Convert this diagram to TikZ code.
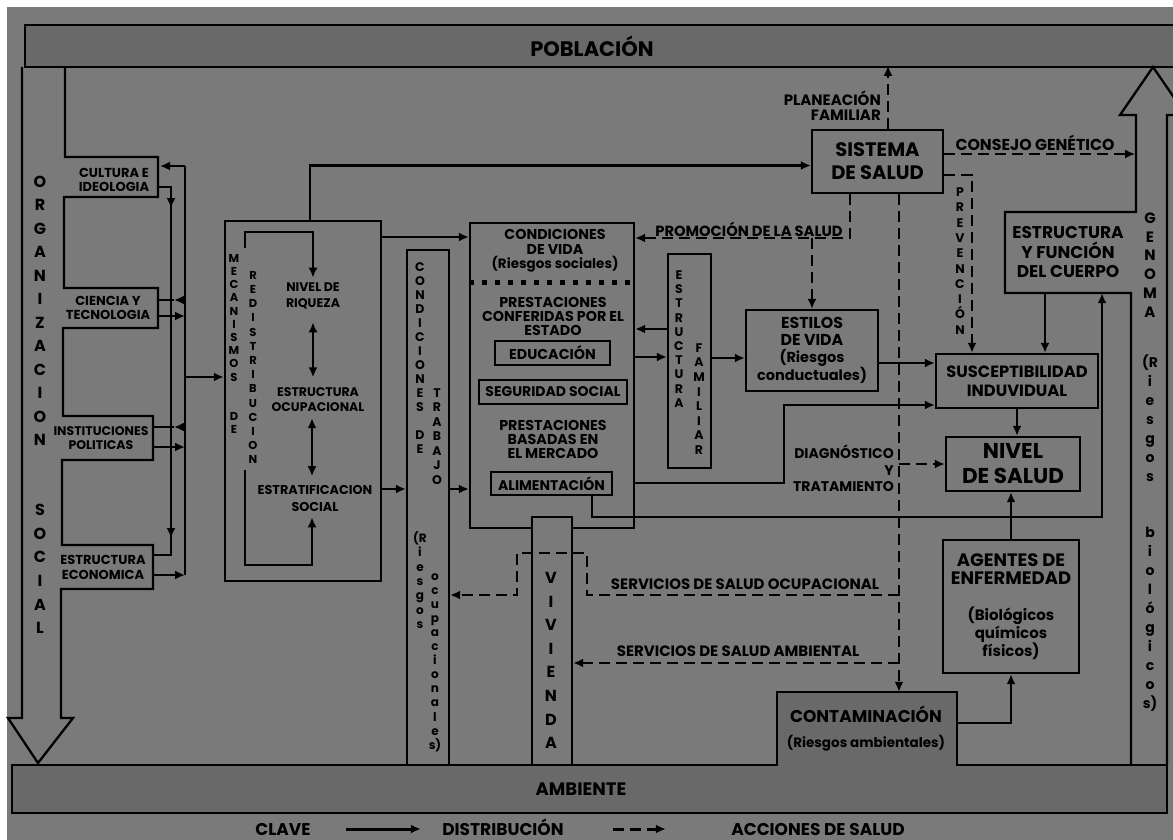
\documentclass[tikz,border=0pt]{standalone}
\usepackage{fontspec}
\setmainfont{Poppins}
\usetikzlibrary{arrows.meta}
\definecolor{paper}{RGB}{122,122,122}
\definecolor{bandgray}{RGB}{105,105,105}
\newcommand{\fsz}[2]{\fontsize{#1}{#2}\selectfont\bfseries}

\begin{document}
\begin{tikzpicture}[x=1pt, y=-1pt,
  box/.style={draw, line width=2.3pt, align=center, inner sep=0pt},
  slot/.style={align=center, inner sep=0pt},
  txt/.style={align=center, inner sep=0pt},
  stack/.style={align=center, inner sep=0pt},
  wire/.style={draw, line width=2.3pt},
  line/.style={wire, -{Latex[length=10pt, width=9pt]}},
  both/.style={wire, {Latex[length=10pt, width=9pt]}-{Latex[length=10pt, width=9pt]}},
  dline/.style={line, dash pattern=on 11pt off 6pt},
  band/.style={draw, line width=2.3pt, fill=bandgray}
]
\useasboundingbox (0,0) rectangle (1173,840);
\fill[white] (0,0) rectangle (1173,840);
\fill[paper] (7,7) rectangle (1173,840);

% bands
\draw[band] (25,25) rectangle (1190,67);
\node[txt, font=\fsz{21}{24}] (poblacion) at (592,46) {POBLACIÓN};
\draw[band] (12,765) -- (777,765) -- (777,692) -- (957,692) -- (957,765)
  -- (1167,765) -- (1167,813) -- (12,813) -- cycle;
\node[txt, font=\fsz{18}{20}] (ambiente) at (581,789) {AMBIENTE};
\node[slot, minimum width=180, minimum height=73, font=\fsz{17}{25}] (contam) at (866,728.5)
  {CONTAMINACIÓN\\\fsz{13.5}{14}(Riesgos ambientales)};

% organizacion social
\draw[wire, line join=miter] (22,67) -- (22,718) -- (8,718) -- (38,763) -- (73,718) -- (61,718)
  -- (61,589) -- (153,589) -- (153,545) -- (62,545) -- (62,460) -- (153,460) -- (153,416)
  -- (63,416) -- (63,328) -- (158,328) -- (158,288) -- (64,288) -- (64,197) -- (158,197)
  -- (158,157) -- (65,157) -- (65,67);
\node[stack, font=\fsz{16}{23.5}] (organiz) at (40,311) {O\\R\\G\\A\\N\\I\\Z\\A\\C\\I\\O\\N};
\node[stack, font=\fsz{16}{23.6}] (social) at (40,569) {S\\O\\C\\I\\A\\L};
\node[txt, font=\fsz{13}{14}] (cultura) at (114,180) {CULTURA E\\IDEOLOGIA};
\node[txt, font=\fsz{13}{13.5}] (ciencia) at (108,308) {CIENCIA Y\\TECNOLOGIA};
\node[txt, font=\fsz{12.5}{13.5}] (politica) at (101,438) {INSTITUCIONES\\POLITICAS};
\node[txt, font=\fsz{13}{15}] (economica) at (103,567) {ESTRUCTURA\\ECONOMICA};

% genoma
\draw[wire, line join=miter] (1131,765) -- (1131,293) -- (1005,293) -- (1005,212) -- (1136,212)
  -- (1136,115) -- (1120,115) -- (1153,67) -- (1186,115) -- (1167,115) -- (1167,765);
\node[stack, font=\fsz{15}{18.8}] (genoma) at (1150,265) {G\\E\\N\\O\\M\\A};
\node[stack, font=\fsz{14}{18.9}] (riesgobio) at (1150,533)
  {(R\\i\\e\\s\\g\\o\\s\\ \\ \\b\\i\\o\\l\\ó\\g\\i\\c\\o\\s)};
\node[slot, minimum width=126, minimum height=81, font=\fsz{17}{19.5}] (estfun) at (1068,252.5)
  {ESTRUCTURA\\Y FUNCIÓN\\DEL CUERPO};

% mecanismos de redistribucion
\node[box, minimum width=156, minimum height=360] (mecanismos) at (303,401) {};
\node[stack, font=\fsz{11.5}{13.2}] (mecan) at (234,344) {M\\E\\C\\A\\N\\I\\S\\M\\O\\S\\ \\ \\D\\E};
\node[stack, font=\fsz{11.5}{14.2}] (redis) at (253,367.5) {R\\E\\D\\I\\S\\T\\R\\I\\B\\U\\C\\I\\O\\N};
\node[txt, font=\fsz{12.5}{16}] (riqueza) at (313,296) {NIVEL DE\\RIQUEZA};
\node[txt, font=\fsz{12.5}{15}] (ocupacional) at (318,400) {ESTRUCTURA\\OCUPACIONAL};
\node[txt, font=\fsz{12.8}{17}] (estratificacion) at (315,498) {ESTRATIFICACION\\SOCIAL};

% condiciones de trabajo
\node[box, minimum width=42, minimum height=515] (condtrab) at (428,507.5) {};
\node[stack, font=\fsz{12.5}{14}] (ct1) at (420,358) {C\\O\\N\\D\\I\\C\\I\\O\\N\\E\\S\\ \\D\\E};
\node[stack, font=\fsz{12.5}{14.5}] (ct2) at (437,436.5) {T\\R\\A\\B\\A\\J\\O};
\node[stack, font=\fsz{12}{14.3}] (ct3) at (420,580) {(R\\i\\e\\s\\g\\o\\s};
\node[stack, font=\fsz{12}{14.1}] (ct4) at (435,662.5) {o\\c\\u\\p\\a\\c\\i\\o\\n\\a\\l\\e\\s)};

% condiciones de vida
\node[box, minimum width=164, minimum height=305] (condvida) at (552,375.5) {};
\draw[line width=5pt, dash pattern=on 5pt off 8pt]
  ([yshift=93.5pt]condvida.west) -- ([yshift=93.5pt]condvida.east);
\node[txt, font=\fsz{14.3}{14.5}] (vida) at (555,251) {CONDICIONES\\DE VIDA\\\fsz{13.5}{12}(Riesgos sociales)};
\node[txt, font=\fsz{14.3}{14}] (estado) at (553,316) {PRESTACIONES\\CONFERIDAS POR EL\\ESTADO};
\node[box, minimum width=115, minimum height=24, font=\fsz{14.3}{14}] (educacion) at (552.5,353) {EDUCACIÓN};
\node[box, minimum width=148, minimum height=24, font=\fsz{14}{14}] (seguridad) at (553,392) {SEGURIDAD SOCIAL};
\node[txt, font=\fsz{14.3}{14}] (mercado) at (553,439) {PRESTACIONES\\BASADAS EN\\EL MERCADO};
\node[box, minimum width=121, minimum height=23, font=\fsz{14}{14}] (alimentacion) at (551.5,483.5) {ALIMENTACIÓN};

% vivienda
\node[box, fill=paper, minimum width=40, minimum height=248] (vivienda) at (552,641) {};
\node[stack, font=\fsz{16}{23.6}] (viv) at (551,660.5) {V\\I\\V\\I\\E\\N\\D\\A};

% estructura familiar
\node[box, minimum width=43, minimum height=214] (estfam) at (689.5,361) {};
\node[stack, font=\fsz{12.5}{14.2}] (ef1) at (679,339) {E\\S\\T\\R\\U\\C\\T\\U\\R\\A};
\node[stack, font=\fsz{12.5}{14.6}] (ef2) at (699,399) {F\\A\\M\\I\\L\\I\\A\\R};

% right hand boxes
\node[box, minimum width=132, minimum height=81, font=\fsz{15.8}{17}] (estilos) at (812,350.5)
  {ESTILOS\\DE VIDA\\\fsz{14.5}{14}(Riesgos\\\fsz{14.5}{14}conductuales)};
\node[box, minimum width=131, minimum height=63, font=\fsz{19.5}{23}] (sistema) at (877.5,161.5) {SISTEMA\\DE SALUD};
\node[box, minimum width=162, minimum height=54, font=\fsz{16.3}{19}] (suscept) at (1017,381) {SUSCEPTIBILIDAD\\INDUVIDUAL};
\node[box, minimum width=134, minimum height=54, font=\fsz{21.5}{25}] (nivel) at (1013,464) {NIVEL\\DE SALUD};
\node[box, minimum width=136, minimum height=133, font=\fsz{18}{18}] (agentes) at (1011,606.5)
  {AGENTES DE\\ENFERMEDAD\\ \\\fsz{15}{14}(Biológicos\\\fsz{15}{14}químicos\\\fsz{15}{14}físicos)};
\node[stack, font=\fsz{12.5}{15.3}] (prevencion) at (960,261) {P\\R\\E\\V\\E\\N\\C\\I\\Ó\\N};

% labels
\node[txt, anchor=east, align=right, font=\fsz{15}{15}] (planeacion) at (881,105.5) {PLANEACIÓN\\FAMILIAR};
\node[txt, font=\fsz{15.8}{16}] (consejo) at (1035,143) {CONSEJO GENÉTICO};
\node[txt, font=\fsz{14.7}{15}] (promocion) at (749,229) {PROMOCIÓN DE LA SALUD};
\node[txt, anchor=east, align=right, font=\fsz{14}{16.5}] (diagnostico) at (894,468.5) {DIAGNÓSTICO\\Y\\TRATAMIENTO};
\node[txt, font=\fsz{15}{16}] (ocupac) at (745,584) {SERVICIOS DE SALUD OCUPACIONAL};
\node[txt, font=\fsz{15}{16}] (ambiental) at (738,651) {SERVICIOS DE SALUD AMBIENTAL};

% left buses
\draw[line] (185,166) -- (160,166);
\draw[wire] (185,166) -- (185,575);
\draw[line] (153,575) -- (185,575);
\draw[line] (185,300) -- (174,300);
\draw[wire] (174,300) -- (158,300);
\draw[line] (185,427) -- (174,427);
\draw[wire] (174,427) -- (153,427);
\draw[line] (158,316) -- (185,316);
\draw[line] (153,447) -- (185,447);
\draw[line] (185,377) -- (mecanismos.west |- 0,377);
\draw[line] (158,187) -| (171,208);
\draw[wire] (171,205) -- (171,518);
\draw[line] (171,515) -- (171,538);
\draw[wire] (171,535) |- (153,555);

% inside mecanismos
\draw[line] (245,248) -- (245,232) -| ([yshift=5pt]riqueza.north);
\draw[both] ([yshift=-13pt]riqueza.south) -- ++(0,55);
\draw[both] ([xshift=-6pt, yshift=-6pt]ocupacional.south) -- ++(0,58);
\draw[line] (245,470) -- (245,565) -| ([xshift=-3pt, yshift=-6pt]estratificacion.south);

% distribucion
\draw[line] ([xshift=7pt]mecanismos.north) |- ([yshift=-4pt]sistema.west);
\draw[line] ([yshift=164pt]mecanismos.east) coordinate (m1) -- (m1 -| condvida.west);
\draw[line] ([yshift=-88pt]mecanismos.east) coordinate (m2) -- (m2 -| condtrab.west);
\draw[line] (m2 -| condtrab.east) -- (m2 -| condvida.west);
\draw[line] ([yshift=32pt]estfam.west) coordinate (f1) -- (f1 -| condvida.east);
\coordinate (f2) at ([yshift=4pt]estfam.west);
\draw[line] (f2 -| condvida.east) -- (f2);
\coordinate (f3) at ([yshift=-7.5pt]estilos.west);
\draw[line] (f3 -| estfam.east) -- (f3);
\draw[line] ([yshift=-12.5pt]estilos.east) coordinate (e1) -- (e1 -| suscept.west);
\draw[line] ([yshift=-107.5pt]condvida.east) -- ++(149,0) |- ([yshift=-24pt]suscept.west);
\draw[line] ([xshift=40.5pt]alimentacion.south) -- ++(0,21) -| ([xshift=34pt]estfun.south);
\draw[line] ([xshift=-23pt]estfun.south) coordinate (g1) -- (g1 |- suscept.north);
\draw[line] (suscept.south) -- (suscept.south |- nivel.north);
\draw[line] (agentes.north) -- (agentes.north |- nivel.south);
\draw[line] ([yshift=5.5pt]contam.east) -| (agentes.south);

% acciones de salud
\draw[dline] ([xshift=10.5pt]sistema.north) -- ++(0,-63);
\draw[dline] ([yshift=7.5pt]sistema.east) -- ++(191,0);
\draw[dline] ([yshift=-13.5pt]sistema.east) -| ([xshift=-45pt]suscept.north);
\coordinate (prom) at ([yshift=137.5pt]condvida.east);
\draw[dline] ([xshift=-27.5pt]sistema.south) |- (prom);
\draw[dline] (prom -| estilos.north) -- (estilos.north);
\draw[dline] ([xshift=21.5pt]sistema.south) coordinate (eje) -- (eje |- contam.north);
\draw[dline] (eje |- nivel.west) -- (nivel.west);
\coordinate (ocup) at (0,595);
\draw[dline] (eje |- ocup) -- ++(-312,0) -- ++(0,-42) -- ++(-70,0) -- ++(0,42) -- (ocup -| condtrab.east);
\coordinate (amb) at (0,663);
\draw[dline] (eje |- amb) -- (amb -| vivienda.east);

% clave
\node[txt, anchor=base, font=\fsz{17}{18}] (clave) at (283,835) {CLAVE};
\node[txt, anchor=base, font=\fsz{17}{18}] (distrib) at (503,835) {DISTRIBUCIÓN};
\node[txt, anchor=base, font=\fsz{17}{18}] (acciones) at (818,835) {ACCIONES DE SALUD};
\draw[line, line width=3pt] ([xshift=35pt]clave.east) -- ++(75,0);
\draw[dline, line width=3pt] ([xshift=35pt]clave.east) ++(267,0) -- ++(53,0);
\end{tikzpicture}
\end{document}
